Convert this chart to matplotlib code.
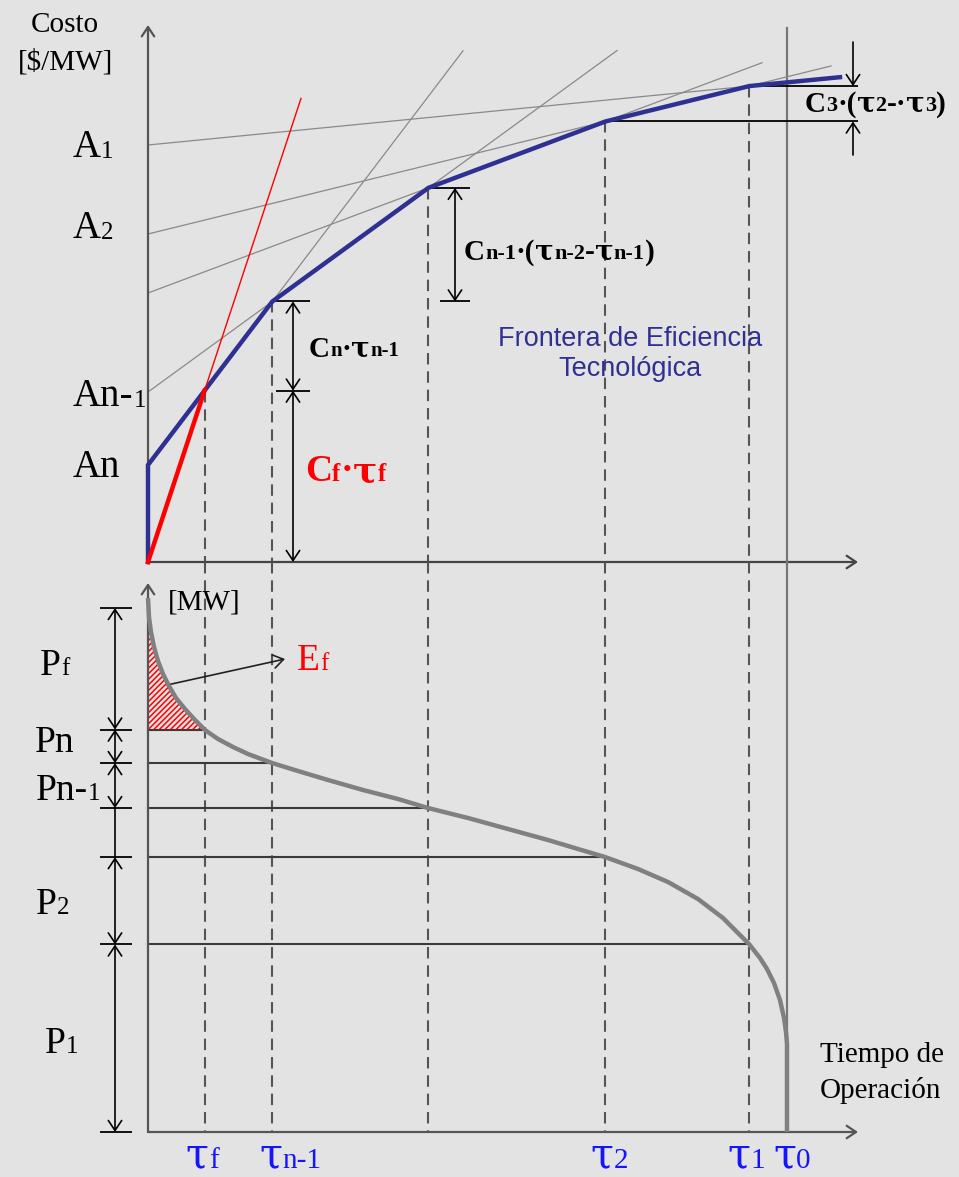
import numpy as np
import matplotlib.pyplot as plt

# Cost lines of the technologies, base (1) ... peak (n): A_i + C_i * tau
fixed_cost = [417, 328, 269, 170, 97]
var_cost = [0.098, 0.246, 0.375, 0.728, 1.315]
line_end = [692, 683, 614, 469, 315]

# peaking unit without fixed cost
fuel_cost = 3.03
fuel_end = 153
frontier_end = 692

# load duration curve [MW] against operating time
ldc_t = [0, 1, 3, 6, 10, 15, 21, 28, 37, 47, 57, 70, 85, 100, 124, 150, 180, 215, 250,
         280, 320, 360, 400, 430, 457, 490, 520, 550, 575, 601, 612, 619, 626, 632, 636,
         638, 639, 639]
ldc_p = [534, 515, 500, 485, 471, 458, 446, 434, 423, 412, 402, 393, 385, 378, 369, 361,
         352, 342, 333, 324, 314, 303, 292, 283, 275, 263, 250, 233, 214, 188, 174, 163,
         149, 132, 114, 100, 88, 0]
tau_0 = 639
p_peak = 524

BG = '#e3e3e3'
BLUE = '#2e3192'
TAU_BLUE = '#1414ff'
AXIS = '#555555'
SERIF = 'Liberation Serif'
GREEK = 'DejaVu Serif'
DESCENT = {SERIF: 0.217, GREEK: 0.208}

A = np.array(fixed_cost, dtype=float)
C = np.array(var_cost)
tau_knee = (A[:-1] - A[1:]) / (C[1:] - C[:-1])      # tau_1, tau_2, tau_n-2, tau_n-1
cost_knee = A[:-1] + C[:-1] * tau_knee
tau_f = A[-1] / (fuel_cost - C[-1])
cost_f = fuel_cost * tau_f

fig = plt.figure(figsize=(9.59, 11.77), dpi=100, facecolor=BG)
ax_c = fig.add_axes([0, 0, 1, 1])
ax_p = fig.add_axes([0, 0, 1, 1])
for ax in (ax_c, ax_p):
    ax.set_xlim(-148, 811)
    ax.axis('off')
ax_c.set_ylim(-615, 562)
ax_p.set_ylim(-45, 1132)


def chain(ax, x, y, parts, color='black', weight='normal'):
    """Write text pieces one after another on a common baseline.

    parts: (text, size) or (text, size, family)."""
    def unpack(p):
        return (p[0], p[1], p[2] if len(p) > 2 else SERIF)

    s, size, fam = unpack(parts[0])
    prev = ax.text(x, y, s, fontsize=size, color=color, weight=weight,
                   family=fam, va='baseline', ha='left')
    prev_desc = DESCENT[fam] * size
    for p in parts[1:]:
        s, size, fam = unpack(p)
        desc = DESCENT[fam] * size
        prev = ax.annotate(s, xy=(1, 0), xycoords=prev, xytext=(0, prev_desc - desc),
                           textcoords='offset points', fontsize=size, color=color,
                           weight=weight, family=fam, va='bottom', ha='left')
        prev_desc = desc
    return prev


def arrow(ax, start, end, style='->', color=AXIS, lw=1.6, scale=15):
    ax.annotate('', xy=end, xytext=start,
                arrowprops=dict(arrowstyle=style + ',head_length=0.45,head_width=0.3',
                                color=color, lw=lw, shrinkA=0, shrinkB=0,
                                mutation_scale=scale))


dash = dict(color=AXIS, lw=1.5, dashes=(5.5, 3.3))

# ---------------- upper panel: cost vs operating time ----------------
taus = [tau_f] + list(tau_knee[::-1])
tops = [cost_f] + list(cost_knee[::-1])
for t, top in zip(taus, tops):
    ax_c.plot([t, t], [top, 0], **dash)
ax_c.plot([tau_0, tau_0], [534, 0], color='#777777', lw=1.6)

for a, c, e in zip(fixed_cost, var_cost, line_end):
    ax_c.plot([0, e], [a, a + c * e], color='#8a8a8a', lw=0.9)

front_t = [0, 0] + list(tau_knee[::-1]) + [frontier_end]
front_c = [0, A[-1]] + list(cost_knee[::-1]) + [A[0] + C[0] * frontier_end]
ax_c.plot(front_t, front_c, color=BLUE, lw=3.2, solid_joinstyle='miter', zorder=4)

ax_c.plot([0, fuel_end], [0, fuel_cost * fuel_end], color='red', lw=1.0, zorder=5)
ax_c.plot([0, tau_f], [0, cost_f], color='red', lw=3.2, zorder=5)

arrow(ax_c, (0, 0), (0, 537))
arrow(ax_c, (0, 0), (710, 0), color='#444444')

# dimension marks
ax_c.hlines(cost_knee[3], 124, 162, color='k', lw=1.3)
ax_c.hlines(cost_f, 128, 162, color='k', lw=1.3)
ax_c.hlines(0, 130, 162, color='k', lw=1.3)
arrow(ax_c, (145, cost_f), (145, cost_knee[3]), '<->', 'k', 1.2, 16)
arrow(ax_c, (145, 0), (145, cost_f), '<->', 'k', 1.2, 16)

ax_c.hlines(cost_knee[2], tau_knee[2], 322, color='k', lw=1.3)
ax_c.hlines(cost_knee[3], 292, 322, color='k', lw=1.3)
arrow(ax_c, (307, cost_knee[3]), (307, cost_knee[2]), '<->', 'k', 1.2, 16)

ax_c.hlines(cost_knee[0], tau_knee[0], 710, color='k', lw=1.3)
ax_c.hlines(cost_knee[1], tau_knee[1], 710, color='k', lw=1.3)
arrow(ax_c, (705, 520), (705, cost_knee[0]), '->', 'k', 1.2, 16)
arrow(ax_c, (705, 407), (705, cost_knee[1]), '->', 'k', 1.2, 16)

# labels
ax_c.text(-83, 530, 'Costo', fontsize=21, family=SERIF, ha='center', va='baseline')
ax_c.text(-82, 492, '[$/MW]', fontsize=21, family=SERIF, ha='center', va='baseline')
chain(ax_c, -75, 405, [('A', 28), ('1', 18)])
chain(ax_c, -75, 324, [('A', 28), ('2', 18)])
chain(ax_c, -75, 156, [('An-', 28), ('1', 18)])
chain(ax_c, -75, 85, [('An', 28)])

chain(ax_c, 161, 205, [('C', 21), ('n', 15), ('·', 21), ('τ', 20, GREEK), ('n-1', 15)],
      weight='bold')
chain(ax_c, 157, 81, [('C', 27), ('f', 18), ('·', 27), ('τ', 26, GREEK), ('f', 18)],
      color='red', weight='bold')
chain(ax_c, 316, 302, [('C', 21), ('n-1', 16), ('·(', 21), ('τ', 20, GREEK), ('n-2', 16),
                       ('-', 21), ('τ', 20, GREEK), ('n-1', 16), (')', 21)], weight='bold')
chain(ax_c, 657, 450, [('C', 21), ('3', 16), ('·(', 21), ('τ', 20, GREEK), ('2', 16),
                       ('-·', 21), ('τ', 20, GREEK), ('3', 16), (')', 21)], weight='bold')
ax_c.text(482, 208, 'Frontera de Eficiencia\nTecnológica', fontsize=19.5,
          family='Liberation Sans', color=BLUE, ha='center', va='center',
          multialignment='center', linespacing=1.15)

# ---------------- lower panel: load duration curve ----------------
levels = np.interp(taus, ldc_t, ldc_p)
for t in taus:
    ax_p.plot([t, t], [570, 0], **dash)
ax_p.plot([tau_0, tau_0], [570, 88], color='#777777', lw=1.6)

for t, p in zip(taus, levels):
    ax_p.plot([0, t], [p, p], color='#3a3a3a', lw=1.5)

hatch_t = [t for t in ldc_t if t <= tau_f] + [tau_f]
hatch_p = [p for t, p in zip(ldc_t, ldc_p) if t <= tau_f] + [levels[0]]
plt.rcParams['hatch.linewidth'] = 1.1
ax_p.fill_between(hatch_t, hatch_p, levels[0], facecolor='none', edgecolor='red',
                  hatch='//////', lw=0, zorder=2)

ax_p.plot(ldc_t, ldc_p, color='#808080', lw=3.2, solid_capstyle='butt',
          solid_joinstyle='round', zorder=4)

arrow(ax_p, (0, 0), (0, 549))
arrow(ax_p, (0, 0), (710, 0))
arrow(ax_p, (19, 447), (137, 473), '->', '#222222', 1.2, 16)

# power blocks on the left
marks = [p_peak] + list(levels) + [0]
ax_p.hlines(marks, -48, -16, color='k', lw=1.3)
for top, bottom in [(0, 1), (1, 2), (2, 3), (4, 5), (5, 6)]:
    arrow(ax_p, (-33, marks[top]), (-33, marks[bottom]), '<->', 'k', 1.2, 16)
ax_p.plot([-33, -33], [marks[3], marks[4]], color='k', lw=1.2)

ax_p.text(20, 523, '[MW]', fontsize=21, family=SERIF, va='baseline')
chain(ax_p, -108, 457, [('P', 27), ('f', 18)])
chain(ax_p, -113, 380, [('Pn', 27)])
chain(ax_p, -112, 332, [('Pn-', 27), ('1', 18)])
chain(ax_p, -112, 218, [('P', 27), ('2', 18)])
chain(ax_p, -103, 79, [('P', 27), ('1', 18)])
chain(ax_p, 149, 462, [('E', 27), ('f', 18)], color='red')

ax_p.text(672, 70, 'Tiempo de', fontsize=21, family=SERIF, va='baseline')
ax_p.text(672, 34, 'Operación', fontsize=21, family=SERIF, va='baseline')

tau_labels = [('f', tau_f - 19), ('n-1', tau_knee[3] - 13), ('2', tau_knee[1] - 15),
              ('1', tau_knee[0] - 22), ('0', tau_0 - 14)]
for sub, x in tau_labels:
    chain(ax_p, x, -35, [('τ', 30, GREEK), (sub, 21)], color=TAU_BLUE)

fig.savefig('out.png', dpi=100, facecolor=BG)
